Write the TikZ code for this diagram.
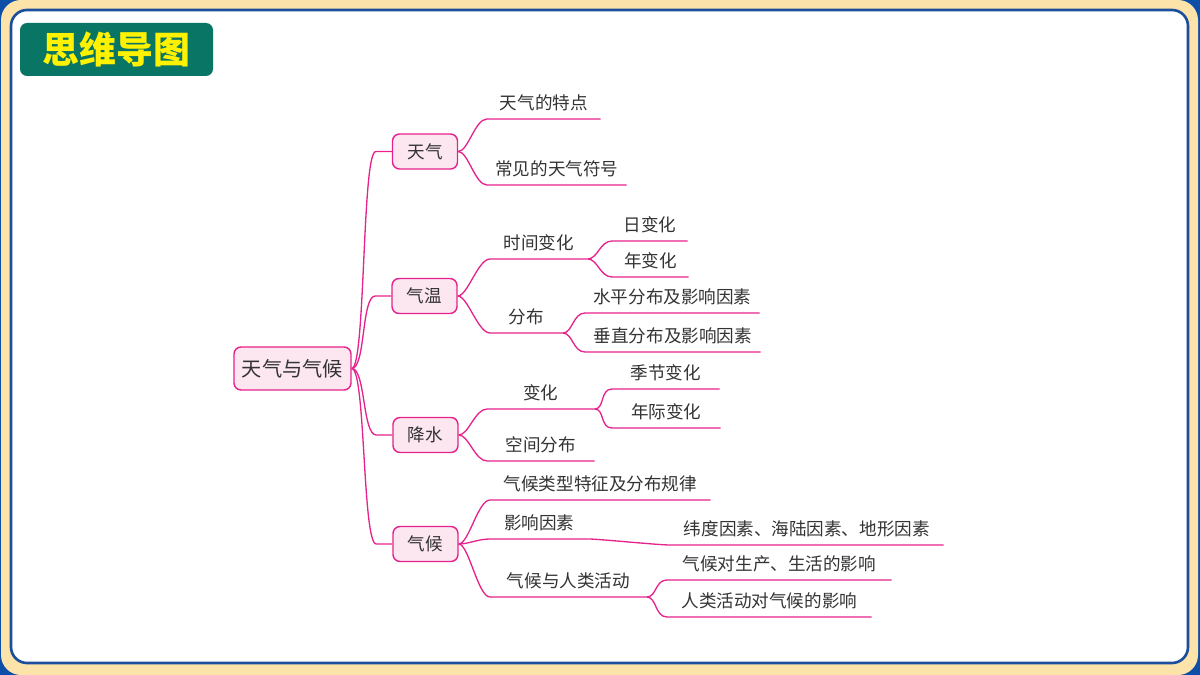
\documentclass[tikz,border=0pt]{standalone}
\usepackage{fontspec}
\newfontfamily\cjk{Noto Sans CJK SC}
\usepackage{tikz}
\usetikzlibrary{calc}
\usepackage{xcolor}
\definecolor{colframe}{HTML}{0D4EA8}
\definecolor{colbeige}{HTML}{FBE3AA}
\definecolor{colrim}{HTML}{1B4F9C}
\definecolor{coltitle}{HTML}{087565}
\definecolor{colline}{HTML}{E6228C}
\definecolor{coltopic}{HTML}{FCE6F0}
\definecolor{coltext}{HTML}{333333}
\newlength\px
\setlength\px{0.02cm}
\tikzset{
  topic/.style={draw=colline, fill=coltopic, line width=0.8pt, rounded corners=4pt, text=coltext, minimum width=65\px, minimum height=35\px, inner sep=0pt},
  leaf/.style={anchor=south west, inner xsep=0pt, inner ysep=3pt, text height=8pt, text depth=2pt, text=coltext},
  link/.style={draw=colline, line width=0.75pt},
}

\begin{document}
\begin{tikzpicture}[x=0.02cm, y=-0.02cm, every node/.style={font=\cjk\fontsize{10}{12}\selectfont}]
    \useasboundingbox (0,0) rectangle (1200,675);
    % frame
    \fill[colframe] (0,0) rectangle (1200,675);
    \fill[colbeige, rounded corners=20\px] (1,0) rectangle (1198,675);
    \draw[colrim, line width=1.5pt, fill=white, rounded corners=16\px] (11,10) rectangle (1188,663);
    \node[fill=coltitle, rounded corners=4pt, minimum width=193\px, minimum height=53\px, inner sep=0pt, text=yellow, font=\cjk\bfseries\fontsize{21}{24}\selectfont] (title) at (116.5,49.5) {思维导图};
    % topics
    \node[topic, minimum width=117\px, minimum height=43\px, font=\cjk\fontsize{11.5}{14}\selectfont] (root) at (292.5,368.5) {天气与气候};
    \node[topic] (tq) at (425,151.5) {天气};
    \node[topic] (qw) at (424.5,296) {气温};
    \node[topic] (js) at (425.5,435) {降水};
    \node[topic] (qh) at (425.5,544) {气候};
    % branches
    \node[leaf, minimum width=113\px] (tq1) at (487,119) {天气的特点};
    \node[leaf, minimum width=139\px] (tq2) at (487,185) {常见的天气符号};
    \node[leaf, minimum width=97\px] (qw1) at (490,259) {时间变化};
    \node[leaf, minimum width=75\px] (qw11) at (612,241) {日变化};
    \node[leaf, minimum width=76\px] (qw12) at (612,277) {年变化};
    \node[leaf, minimum width=72\px] (qw2) at (490,333) {分布};
    \node[leaf, minimum width=174\px] (qw21) at (585,313) {水平分布及影响因素};
    \node[leaf, minimum width=175\px] (qw22) at (585,352) {垂直分布及影响因素};
    \node[leaf, minimum width=107\px] (js1) at (487,409) {变化};
    \node[leaf, minimum width=107\px] (js11) at (612,389) {季节变化};
    \node[leaf, minimum width=108\px] (js12) at (612,428) {年际变化};
    \node[leaf, minimum width=107\px] (js2) at (487,461) {空间分布};
    \node[leaf, minimum width=220\px] (qh1) at (490,500) {气候类型特征及分布规律};
    \node[leaf, minimum width=98\px] (qh2) at (490,539) {影响因素};
    \node[leaf, minimum width=273\px] (qh21) at (670,545) {纬度因素、海陆因素、地形因素};
    \node[leaf, minimum width=156\px] (qh3) at (490,597) {气候与人类活动};
    \node[leaf, minimum width=224\px] (qh31) at (667,580) {气候对生产、生活的影响};
    \node[leaf, minimum width=204\px] (qh32) at (667,617) {人类活动对气候的影响};
    % links
    \foreach \c in {tq,qw,js,qh}
      \draw[link] (root.east) .. controls ($(root.east)+(14,0)$) and ($(\c.west)+(-30,0)$) .. ($(\c.west)+(-16,0)$) -- (\c.west);
    \foreach \p/\c in {tq.east/tq1,tq.east/tq2,qw.east/qw1,qw.east/qw2,qw1.south east/qw11,qw1.south east/qw12,qw2.south east/qw21,qw2.south east/qw22,js.east/js1,js.east/js2,js1.south east/js11,js1.south east/js12,qh.east/qh1,qh.east/qh2,qh.east/qh3,qh2.south east/qh21,qh3.south east/qh31,qh3.south east/qh32}
      \draw[link] (\p) .. controls ($(\p)+(10,0)$) and ($(\c.south west)+(-12,0)$) .. (\c.south west) -- (\c.south east);
  \end{tikzpicture}
\end{document}
